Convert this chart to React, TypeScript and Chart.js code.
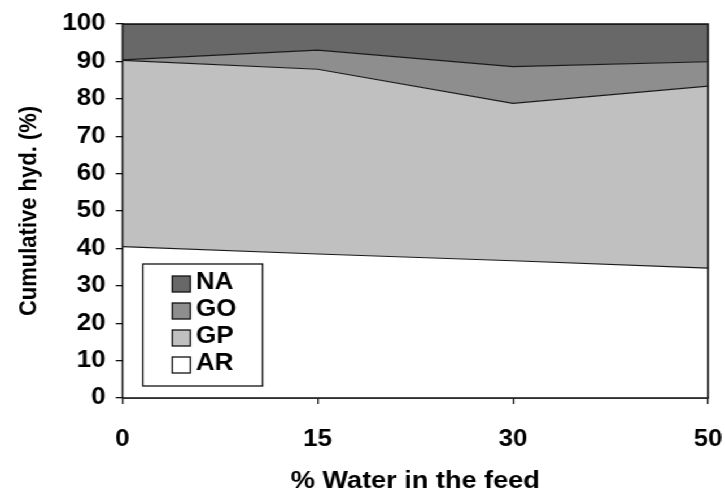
import { useEffect, useRef } from "react";
import { Chart, registerables } from "chart.js";

Chart.register(...registerables);

// Water content in the feed (%)
const waterFeed = ["0", "15", "30", "50"];

// Product distribution (% of cumulative hydrocarbons), stacked bottom to top
const arValues = [40.5, 38.5, 36.7, 34.7];
const gpValues = [49.8, 49.4, 42.1, 48.7];
const goValues = [0.1, 5.1, 9.8, 6.5];
const naValues = [9.6, 7.0, 11.4, 10.1];

const seriesNames = ["AR", "GP", "GO", "NA"];
const seriesFills = ["#ffffff", "#c0c0c0", "#8e8e8e", "#686868"];

const FONT = '"Liberation Sans", Arial, Helvetica, sans-serif';
const CANVAS_W = 642;
const CANVAS_H = 498;
const PAGE_W = 725;

const framePlugin = {
  id: "frame",
  afterDatasetsDraw(chart: any) {
    const { ctx, chartArea: a } = chart;
    ctx.save();
    ctx.strokeStyle = "#111";
    ctx.lineWidth = 1.5;
    ctx.strokeRect(a.left, a.top, a.right - a.left, a.bottom - a.top);
    ctx.restore();
  },
};

const boxLegendPlugin = {
  id: "boxLegend",
  afterDraw(chart: any) {
    const { ctx, chartArea: a } = chart;
    const sets = chart.data.datasets.slice().reverse();
    const bx = a.left + 18;
    const by = a.top + 240;
    const bw = 106;
    const bh = 122;
    ctx.save();
    ctx.fillStyle = "#ffffff";
    ctx.fillRect(bx, by, bw, bh);
    ctx.strokeStyle = "#111";
    ctx.lineWidth = 1.3;
    ctx.strokeRect(bx, by, bw, bh);
    ctx.font = `bold 23px ${FONT}`;
    ctx.textBaseline = "middle";
    ctx.textAlign = "left";
    sets.forEach((ds: any, i: number) => {
      const cy = by + 20 + i * 27;
      const sx = bx + 26;
      ctx.fillStyle = ds.backgroundColor;
      ctx.fillRect(sx, cy - 8, 16, 16);
      ctx.strokeStyle = "#111";
      ctx.lineWidth = 1.3;
      ctx.strokeRect(sx, cy - 8, 16, 16);
      ctx.fillStyle = "#000";
      ctx.fillText(ds.label, sx + 21, cy - 1);
    });
    ctx.restore();
  },
};

export default function App() {
  const canvasRef = useRef<HTMLCanvasElement | null>(null);

  useEffect(() => {
    const canvas = canvasRef.current;
    if (!canvas) return;
    const values = [arValues, gpValues, goValues, naValues];
    const chart = new Chart(canvas, {
      type: "line",
      data: {
        labels: waterFeed,
        datasets: values.map((data, i) => ({
          label: seriesNames[i],
          data,
          fill: i === 0 ? "origin" : "-1",
          backgroundColor: seriesFills[i],
          borderColor: "#1a1a1a",
          borderWidth: 1.2,
          pointRadius: 0,
          tension: 0,
        })),
      },
      options: {
        responsive: false,
        animation: false,
        devicePixelRatio: 1,
        layout: { padding: { top: 24, right: 15, left: 0, bottom: 0 } },
        plugins: {
          legend: { display: false },
          tooltip: { enabled: false },
        },
        scales: {
          x: {
            type: "category",
            offset: false,
            grid: {
              display: true,
              drawOnChartArea: false,
              drawTicks: true,
              tickLength: 6,
              color: "#111",
              lineWidth: 1.3,
            },
            border: { display: true, color: "#111", width: 1.5 },
            ticks: {
              color: "#000",
              font: { family: FONT, size: 23, weight: "bold" },
              padding: 22,
              maxRotation: 0,
              autoSkip: false,
            },
            title: {
              display: true,
              text: "% Water in the feed",
              color: "#000",
              font: { family: FONT, size: 24, weight: "bold" },
              padding: { top: 0, bottom: 2 },
            },
            afterFit: (s: any) => {
              s.height = 100;
              s.paddingLeft = 0;
              s.paddingRight = 0;
            },
          },
          y: {
            stacked: true,
            min: 0,
            max: 100,
            grid: {
              display: true,
              drawOnChartArea: false,
              drawTicks: true,
              tickLength: 6,
              color: "#111",
              lineWidth: 1.3,
            },
            border: { display: true, color: "#111", width: 1.5 },
            ticks: {
              stepSize: 10,
              color: "#000",
              font: { family: FONT, size: 23, weight: "bold" },
              padding: 9,
            },
            title: {
              display: true,
              text: "Cumulative hyd. (%)",
              color: "#000",
              font: { family: FONT, size: 22, weight: "bold" },
              padding: { top: 13, bottom: 0 },
            },
            afterFit: (s: any) => {
              s.width = 108.5;
              s.paddingTop = 0;
              s.paddingBottom = 0;
            },
          },
        },
      },
      plugins: [framePlugin, boxLegendPlugin],
    });
    return () => chart.destroy();
  }, []);

  return (
    <div
      style={{
        position: "fixed",
        left: 0,
        top: 0,
        width: CANVAS_W,
        height: CANVAS_H,
        background: "#fff",
        transform: `scaleX(${PAGE_W / CANVAS_W})`,
        transformOrigin: "0 0",
      }}
    >
      <canvas ref={canvasRef} width={CANVAS_W} height={CANVAS_H} />
    </div>
  );
}
